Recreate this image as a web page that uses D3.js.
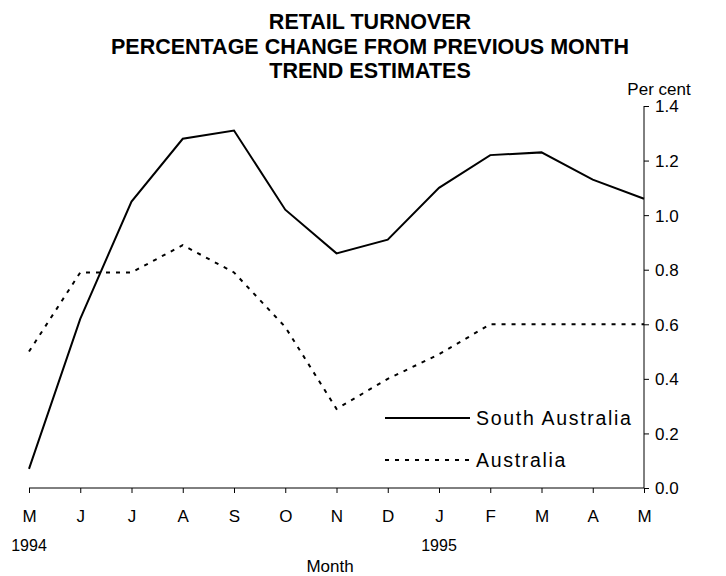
<!DOCTYPE html>
<html lang="en">
<head>
<meta charset="UTF-8">
<title>Retail Turnover</title>
<script src="https://cdn.jsdelivr.net/npm/d3@7"></script>
<style>
  body { margin: 0; background: #fff; }
  text { font-family: "Liberation Sans", Arial, sans-serif; fill: #000; }
</style>
</head>
<body>
<div id="chart"></div>
<script>
const months = ["M", "J", "J", "A", "S", "O", "N", "D", "J", "F", "M", "A", "M"];
const yearLabels = [{ i: 0, label: "1994" }, { i: 8, label: "1995" }];
const southAustralia = [0.07, 0.62, 1.05, 1.28, 1.31, 1.02, 0.86, 0.91, 1.10, 1.22, 1.23, 1.13, 1.06];
const australia = [0.50, 0.79, 0.79, 0.89, 0.79, 0.59, 0.29, 0.40, 0.49, 0.60, 0.60, 0.60, 0.60];
const yTicks = [0, 0.2, 0.4, 0.6, 0.8, 1.0, 1.2, 1.4];
const titleLines = ["RETAIL TURNOVER", "PERCENTAGE CHANGE FROM PREVIOUS MONTH", "TREND ESTIMATES"];

const width = 726, height = 576;
const plot = { left: 29, right: 644, top: 106, bottom: 488 };

const svg = d3.select("#chart").append("svg")
  .attr("width", width).attr("height", height);

const x = d3.scaleLinear().domain([0, months.length - 1]).range([plot.left, plot.right]);
const y = d3.scaleLinear().domain([0, 1.4]).range([plot.bottom, plot.top]);

// title
svg.append("g").selectAll("text")
  .data(titleLines)
  .join("text")
  .attr("x", 370)
  .attr("y", (d, i) => 29 + i * 24.5)
  .attr("text-anchor", "middle")
  .attr("font-weight", "bold")
  .attr("font-size", 21.5)
  .text(d => d);

// right y axis
const yAxis = svg.append("g")
  .attr("transform", `translate(${plot.right},0)`)
  .call(d3.axisRight(y).tickValues(yTicks).tickFormat(d3.format(".1f")).tickSize(5).tickPadding(6));
yAxis.select(".domain").attr("d", `M0,${plot.top}V${plot.bottom}`).attr("stroke", "#000");
yAxis.selectAll("line").attr("stroke", "#000");
yAxis.selectAll("text").attr("font-size", 17).attr("dy", "0.35em");

svg.append("text")
  .attr("x", 659).attr("y", 95)
  .attr("text-anchor", "middle")
  .attr("font-size", 17)
  .text("Per cent");

// bottom x axis
const xAxis = svg.append("g")
  .attr("transform", `translate(0,${plot.bottom})`)
  .call(d3.axisBottom(x).tickValues(d3.range(months.length)).tickFormat(i => months[i]).tickSize(5).tickPadding(17));
xAxis.select(".domain").attr("d", `M${plot.left},0H${plot.right}`).attr("stroke", "#000");
xAxis.selectAll("line").attr("stroke", "#000");
xAxis.selectAll("text").attr("font-size", 17);

svg.append("g").selectAll("text")
  .data(yearLabels)
  .join("text")
  .attr("x", d => x(d.i))
  .attr("y", 551)
  .attr("text-anchor", "middle")
  .attr("font-size", 16)
  .text(d => d.label);

svg.append("text")
  .attr("x", 330).attr("y", 572)
  .attr("text-anchor", "middle")
  .attr("font-size", 17)
  .text("Month");

// lines
const line = d3.line().x((d, i) => x(i)).y(d => y(d));

svg.append("path")
  .datum(southAustralia)
  .attr("d", line)
  .attr("fill", "none")
  .attr("stroke", "#000")
  .attr("stroke-width", 2);

svg.append("path")
  .datum(australia)
  .attr("d", line)
  .attr("fill", "none")
  .attr("stroke", "#000")
  .attr("stroke-width", 2)
  .attr("stroke-dasharray", "4,6");

// legend
const legend = [
  { name: "South Australia", dash: null, y: 418 },
  { name: "Australia", dash: "4,6", y: 460 }
];
const lg = svg.append("g").selectAll("g")
  .data(legend)
  .join("g");
lg.append("line")
  .attr("x1", 385).attr("x2", 470)
  .attr("y1", d => d.y).attr("y2", d => d.y)
  .attr("stroke", "#000")
  .attr("stroke-width", 2)
  .attr("stroke-dasharray", d => d.dash);
lg.append("text")
  .attr("x", 476)
  .attr("y", d => d.y)
  .attr("dy", "0.35em")
  .attr("font-size", 19.5)
  .attr("letter-spacing", 1.7)
  .text(d => d.name);
</script>
</body>
</html>
